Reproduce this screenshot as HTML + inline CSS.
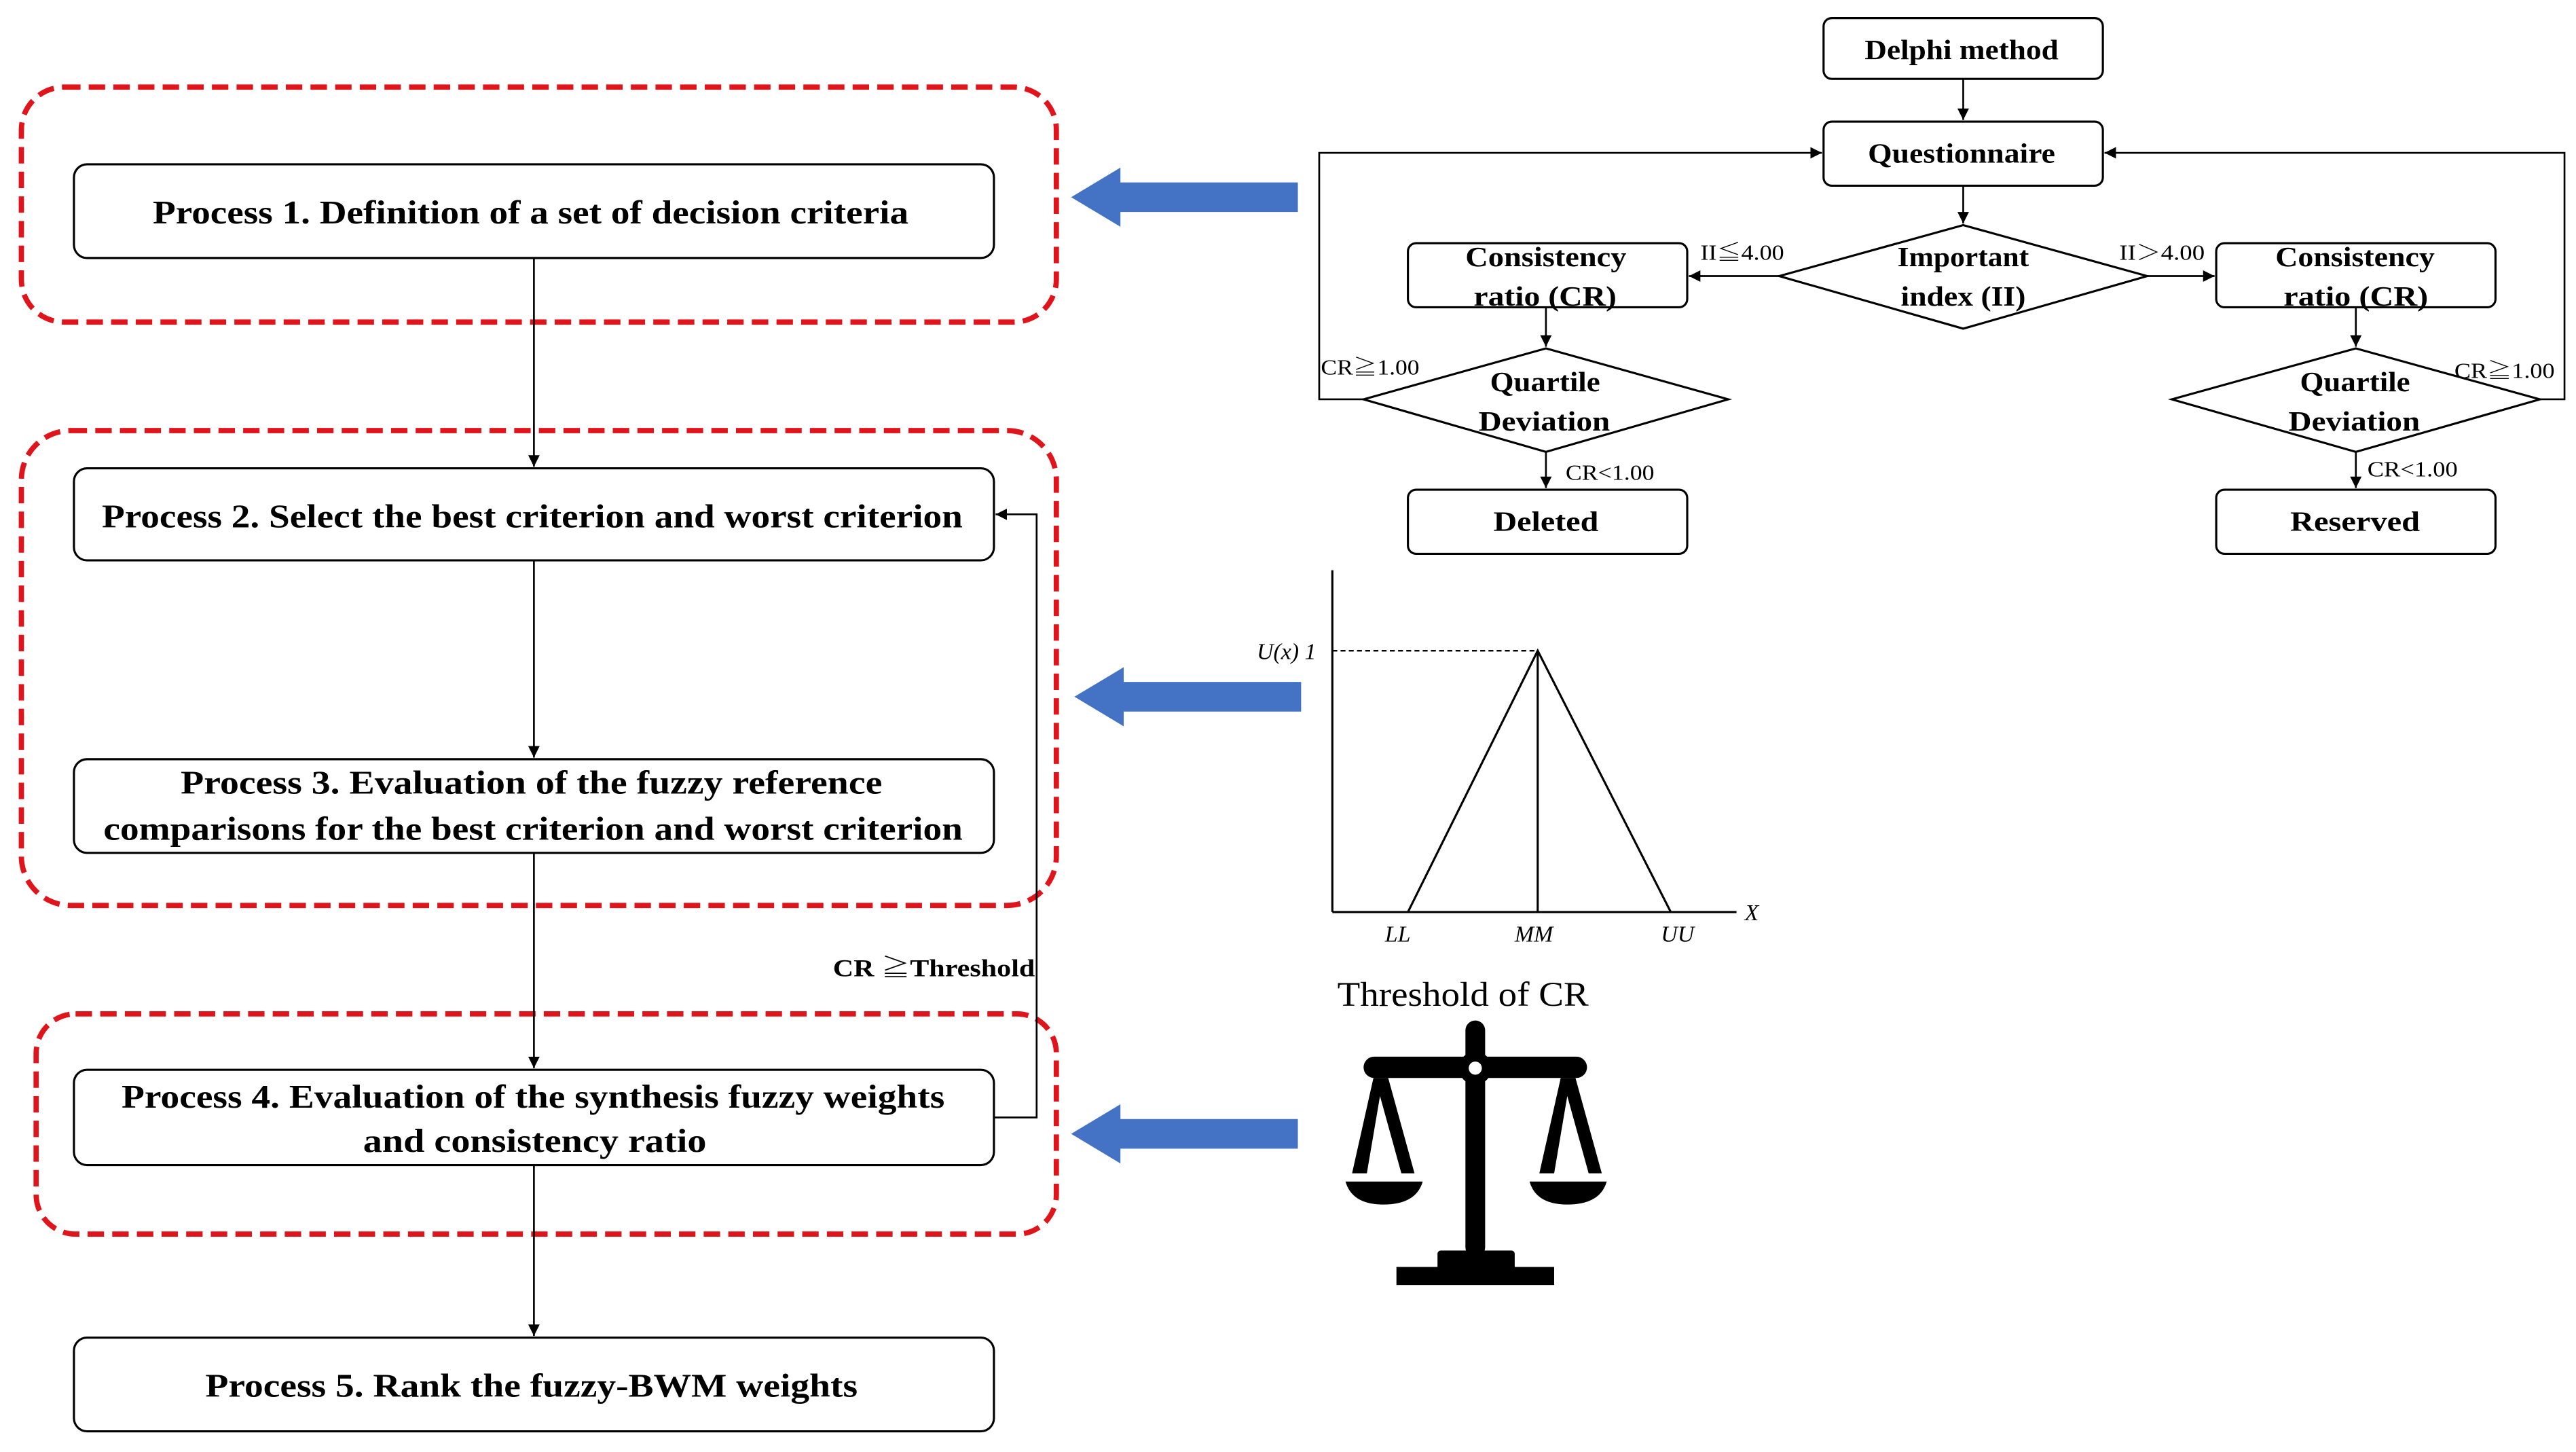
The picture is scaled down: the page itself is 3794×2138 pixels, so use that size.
<!DOCTYPE html>
<html><head><meta charset="utf-8"><style>
html,body{margin:0;padding:0;background:#fff;}
svg{display:block;}
text{font-family:"Liberation Serif","Noto Serif CJK SC",serif;fill:#000;}
.b{font-weight:bold;}
</style></head><body>
<svg width="3794" height="2138" viewBox="0 0 1568 883.6" preserveAspectRatio="none" xmlns="http://www.w3.org/2000/svg">
<defs>
<marker id="a" viewBox="0 0 10 10" refX="10" refY="5" markerWidth="7" markerHeight="7" markerUnits="userSpaceOnUse" orient="auto"><path d="M0,0L10,5L0,10z" fill="#000"/></marker>
</defs>
<rect width="1568" height="884" fill="#fff"/>
<!-- red dashed groups -->
<g fill="none" stroke="#e0141b" stroke-width="3.2" stroke-dasharray="10,5">
<rect x="13" y="53" width="630" height="143" rx="26"/>
<rect x="13" y="262" width="630" height="289" rx="30"/>
<rect x="22" y="617" width="621" height="134" rx="24"/>
</g>
<!-- process boxes -->
<g fill="#fff" stroke="#000" stroke-width="1.3">
<rect x="45" y="100" width="560" height="57" rx="8"/>
<rect x="45" y="285" width="560" height="56" rx="8"/>
<rect x="45" y="462" width="560" height="57" rx="8"/>
<rect x="45" y="651" width="560" height="58" rx="8"/>
<rect x="45" y="814" width="560" height="57" rx="8"/>
</g>
<g class="b" font-size="20">
<text class="b" x="93" y="136" textLength="460" lengthAdjust="spacingAndGlyphs">Process 1. Definition of a set of decision criteria</text>
<text class="b" x="62" y="321" textLength="524" lengthAdjust="spacingAndGlyphs">Process 2. Select the best criterion and worst criterion</text>
<text class="b" x="110" y="483" textLength="427" lengthAdjust="spacingAndGlyphs">Process 3. Evaluation of the fuzzy reference</text>
<text class="b" x="63" y="511" textLength="523" lengthAdjust="spacingAndGlyphs">comparisons for the best criterion and worst criterion</text>
<text class="b" x="74" y="674" textLength="501" lengthAdjust="spacingAndGlyphs">Process 4. Evaluation of the synthesis fuzzy weights</text>
<text class="b" x="221" y="701" textLength="209" lengthAdjust="spacingAndGlyphs">and consistency ratio</text>
<text class="b" x="125" y="850" textLength="397" lengthAdjust="spacingAndGlyphs">Process 5. Rank the fuzzy-BWM weights</text>
</g>
<!-- left connectors -->
<g stroke="#000" stroke-width="1.1" fill="none">
<line x1="325" y1="157" x2="325" y2="284" marker-end="url(#a)"/>
<line x1="325" y1="341" x2="325" y2="461" marker-end="url(#a)"/>
<line x1="325" y1="519" x2="325" y2="650" marker-end="url(#a)"/>
<line x1="325" y1="709" x2="325" y2="813" marker-end="url(#a)"/>
<polyline points="605,680 631,680 631,313 606,313" marker-end="url(#a)"/>
</g>
<text class="b" x="507" y="594" font-size="15" textLength="123" lengthAdjust="spacingAndGlyphs">CR ≧Threshold</text>
<!-- blue arrows -->
<g fill="#4472c4">
<path d="M790,111 L682,111 L682,102 L652,120 L682,138 L682,129 L790,129 Z"/>
<path d="M792,415 L684,415 L684,406 L654,424 L684,442 L684,433 L792,433 Z"/>
<path d="M790,681 L682,681 L682,672 L652,690 L682,708 L682,699 L790,699 Z"/>
</g>
<!-- right flowchart -->
<g fill="#fff" stroke="#000" stroke-width="1.3">
<rect x="1110" y="11" width="170" height="37" rx="5"/>
<rect x="1110" y="74" width="170" height="39" rx="5"/>
<rect x="857" y="148" width="170" height="39" rx="5"/>
<rect x="1349" y="148" width="170" height="39" rx="5"/>
<rect x="857" y="298" width="170" height="39" rx="5"/>
<rect x="1349" y="298" width="170" height="39" rx="5"/>
<polygon points="1195,137 1307,168 1195,200 1083,168"/>
<polygon points="941,212 1052,243 941,275 830,243"/>
<polygon points="1434,212 1546,243 1434,275 1322,243"/>
</g>
<g stroke="#000" stroke-width="1.1" fill="none">
<line x1="1195" y1="48" x2="1195" y2="73" marker-end="url(#a)"/>
<line x1="1195" y1="113" x2="1195" y2="136" marker-end="url(#a)"/>
<line x1="1083" y1="168" x2="1028" y2="168" marker-end="url(#a)"/>
<line x1="1307" y1="168" x2="1348" y2="168" marker-end="url(#a)"/>
<line x1="941" y1="187" x2="941" y2="211" marker-end="url(#a)"/>
<line x1="1434" y1="187" x2="1434" y2="211" marker-end="url(#a)"/>
<line x1="941" y1="275" x2="941" y2="297" marker-end="url(#a)"/>
<line x1="1434" y1="275" x2="1434" y2="297" marker-end="url(#a)"/>
<polyline points="830,243 803,243 803,93 1109,93" marker-end="url(#a)"/>
<polyline points="1546,243 1561,243 1561,93 1281,93" marker-end="url(#a)"/>
</g>
<g font-size="17">
<text class="b" x="1135" y="36" textLength="118" lengthAdjust="spacingAndGlyphs">Delphi method</text>
<text class="b" x="1137" y="99" textLength="114" lengthAdjust="spacingAndGlyphs">Questionnaire</text>
<text class="b" x="892" y="162" textLength="98" lengthAdjust="spacingAndGlyphs">Consistency</text>
<text class="b" x="897" y="186" textLength="87" lengthAdjust="spacingAndGlyphs">ratio (CR)</text>
<text class="b" x="1385" y="162" textLength="97" lengthAdjust="spacingAndGlyphs">Consistency</text>
<text class="b" x="1390" y="186" textLength="88" lengthAdjust="spacingAndGlyphs">ratio (CR)</text>
<text class="b" x="1155" y="162" textLength="80" lengthAdjust="spacingAndGlyphs">Important</text>
<text class="b" x="1157" y="186" textLength="76" lengthAdjust="spacingAndGlyphs">index (II)</text>
<text class="b" x="907" y="238" textLength="67" lengthAdjust="spacingAndGlyphs">Quartile</text>
<text class="b" x="900" y="262" textLength="80" lengthAdjust="spacingAndGlyphs">Deviation</text>
<text class="b" x="1400" y="238" textLength="67" lengthAdjust="spacingAndGlyphs">Quartile</text>
<text class="b" x="1393" y="262" textLength="80" lengthAdjust="spacingAndGlyphs">Deviation</text>
<text class="b" x="909" y="323" textLength="64" lengthAdjust="spacingAndGlyphs">Deleted</text>
<text class="b" x="1394" y="323" textLength="79" lengthAdjust="spacingAndGlyphs">Reserved</text>
</g>
<g font-size="13">
<text x="1035" y="158" textLength="51" lengthAdjust="spacingAndGlyphs">II≦4.00</text>
<text x="1290" y="158" textLength="52" lengthAdjust="spacingAndGlyphs">II＞4.00</text>
<text x="804" y="228" textLength="60" lengthAdjust="spacingAndGlyphs">CR≧1.00</text>
<text x="1494" y="230" textLength="61" lengthAdjust="spacingAndGlyphs">CR≧1.00</text>
<text x="953" y="292" textLength="54" lengthAdjust="spacingAndGlyphs">CR&lt;1.00</text>
<text x="1441" y="290" textLength="55" lengthAdjust="spacingAndGlyphs">CR&lt;1.00</text>
</g>
<!-- fuzzy chart -->
<g stroke="#000" stroke-width="1.3" fill="none">
<line x1="811" y1="347" x2="811" y2="555"/>
<line x1="811" y1="555" x2="1057" y2="555"/>
<polyline points="857,555 936,396 1017,555"/>
<line x1="936" y1="396" x2="936" y2="555"/>
<line x1="811" y1="396" x2="936" y2="396" stroke-dasharray="3,2" stroke-width="1"/>
</g>
<g font-size="14" font-style="italic">
<text x="765" y="401">U(x) 1</text>
<text x="1062" y="560">X</text>
<text x="843" y="573">LL</text>
<text x="922" y="573">MM</text>
<text x="1011" y="573">UU</text>
</g>
<text x="814" y="612" font-size="21" textLength="153" lengthAdjust="spacingAndGlyphs">Threshold of CR</text>
<!-- scale icon -->
<g fill="#000">
<rect x="892" y="621" width="12" height="144" rx="6"/>
<rect x="830" y="643" width="136" height="13" rx="6.5"/>
<circle cx="898" cy="650" r="10"/>
<polygon points="836,656 845,656 861,714 853,714 840,667 832,714 823,714"/>
<polygon points="950,656 959,656 975,714 967,714 954,667 946,714 937,714"/>
<path d="M819,719 L866,719 Q862,733 842,733 Q823,733 819,719 Z"/>
<path d="M931,719 L978,719 Q974,733 954,733 Q935,733 931,719 Z"/>
<rect x="875" y="761" width="47" height="12" rx="2"/>
<rect x="850" y="771" width="96" height="11"/>
</g>
<circle cx="898" cy="650" r="4" fill="#fff"/>
</svg>
</body></html>
